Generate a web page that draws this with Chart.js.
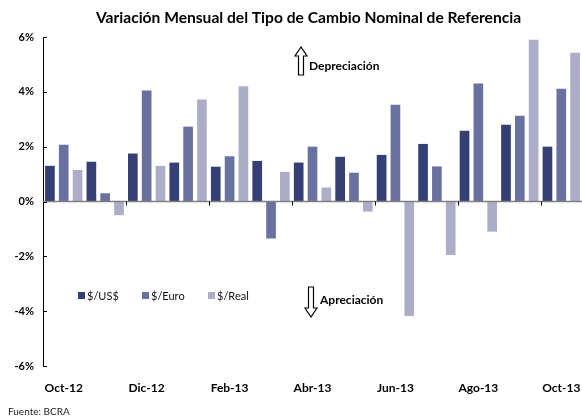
<!DOCTYPE html>
<html><head><meta charset="utf-8">
<script src="https://cdn.jsdelivr.net/npm/chart.js@4.4.1/dist/chart.umd.min.js"></script>
<style>html,body{margin:0;padding:0;background:#fff;}#wrap{width:582px;height:419px;position:relative;}</style>
</head><body><div id="wrap"><canvas id="c" width="582" height="419"></canvas></div>
<script>
const categories = ['Oct-12','Nov-12','Dic-12','Ene-13','Feb-13','Mar-13','Abr-13','May-13','Jun-13','Jul-13','Ago-13','Sep-13','Oct-13'];
const usd  = [1.30, 1.45, 1.75, 1.42, 1.27, 1.48, 1.42, 1.63, 1.70, 2.10, 2.58, 2.80, 2.00];
const euro = [2.07, 0.30, 4.05, 2.73, 1.65, -1.35, 2.00, 1.05, 3.53, 1.28, 4.30, 3.13, 4.11];
const real = [1.15, -0.50, 1.30, 3.72, 4.20, 1.08, 0.51, -0.37, -4.18, -1.95, -1.10, 5.90, 5.43];
const yTicks = [-6, -4, -2, 0, 2, 4, 6];
const seriesNames = ['$/US$', '$/Euro', '$/Real'];
const colors = ['#333f75', '#6971a0', '#abadc9'];
const titleText = 'Variación Mensual del Tipo de Cambio Nominal de Referencia';
const sourceText = 'Fuente: BCRA';

const FONT = 'Lato, "Open Sans", sans-serif';

const overlay = {
  id: 'overlay',
  afterDatasetsDraw(chart) {
    const ctx = chart.ctx, x = chart.scales.x, y = chart.scales.y, a = chart.chartArea;
    ctx.save();
    const y0 = y.getPixelForValue(0);
    ctx.strokeStyle = '#808080'; ctx.lineWidth = 1.6;
    ctx.beginPath(); ctx.moveTo(a.left, y0); ctx.lineTo(a.right, y0); ctx.stroke();
    ctx.strokeStyle = '#000'; ctx.lineWidth = 1;
    for (let i = 2; i < categories.length; i += 2) {
      const px = Math.round((x.getPixelForValue(i - 1) + x.getPixelForValue(i)) / 2) + 0.5;
      ctx.beginPath(); ctx.moveTo(px, y0); ctx.lineTo(px, y0 + 4); ctx.stroke();
    }
    yTicks.forEach(v => {
      const py = Math.round(y.getPixelForValue(v)) + 0.5;
      ctx.beginPath(); ctx.moveTo(a.left, py); ctx.lineTo(a.left + 4, py); ctx.stroke();
    });
    ctx.restore();
  },
  afterDraw(chart) {
    const ctx = chart.ctx;
    ctx.save();
    ctx.fillStyle = '#000';
    ctx.font = 'bold 15.6px ' + FONT;
    ctx.textAlign = 'center'; ctx.textBaseline = 'middle';
    ctx.fillText(titleText, 308.5, 18);
    ctx.font = '10px ' + FONT;
    ctx.textAlign = 'left';
    ctx.fillStyle = '#222';
    ctx.fillText(sourceText, 8, 412);
    const lx = [78, 142, 208];
    ctx.font = '11px ' + FONT;
    seriesNames.forEach((n, i) => {
      ctx.fillStyle = colors[i];
      ctx.fillRect(lx[i], 292, 7, 7);
      ctx.fillStyle = '#111';
      ctx.fillText(n, lx[i] + 9, 296);
    });
    ctx.strokeStyle = '#000'; ctx.lineWidth = 1.2; ctx.fillStyle = '#fff';
    ctx.beginPath();
    ctx.moveTo(298.5, 75); ctx.lineTo(298.5, 56); ctx.lineTo(295, 56); ctx.lineTo(301, 47);
    ctx.lineTo(307, 56); ctx.lineTo(303.5, 56); ctx.lineTo(303.5, 75); ctx.closePath();
    ctx.fill(); ctx.stroke();
    ctx.beginPath();
    ctx.moveTo(308.5, 287); ctx.lineTo(308.5, 308); ctx.lineTo(305, 308); ctx.lineTo(311, 317);
    ctx.lineTo(317, 308); ctx.lineTo(313.5, 308); ctx.lineTo(313.5, 287); ctx.closePath();
    ctx.fill(); ctx.stroke();
    ctx.fillStyle = '#000';
    ctx.font = 'bold 12px ' + FONT;
    ctx.fillText('Depreciación', 309, 66);
    ctx.fillText('Apreciación', 320, 300);
    ctx.restore();
  }
};

new Chart(document.getElementById('c'), {
  type: 'bar',
  data: {
    labels: categories,
    datasets: [
      { label: seriesNames[0], data: usd,  backgroundColor: colors[0] },
      { label: seriesNames[1], data: euro, backgroundColor: colors[1] },
      { label: seriesNames[2], data: real, backgroundColor: colors[2] }
    ]
  },
  options: {
    responsive: false,
    animation: false,
    devicePixelRatio: 1,
    layout: { padding: { top: 37, right: -2, left: 0, bottom: 0 } },
    datasets: { bar: { barPercentage: 0.7, categoryPercentage: 1.0, borderWidth: 0 } },
    plugins: { legend: { display: false }, title: { display: false }, tooltip: { enabled: false } },
    scales: {
      x: {
        grid: { display: false },
        border: { display: false },
        ticks: {
          autoSkip: false, maxRotation: 0, padding: 7,
          color: '#000', font: { family: FONT, size: 12, weight: 'bold' },
          callback: (v, i) => (i % 2 === 0 ? categories[i] : '')
        },
        afterFit: s => { s.height = 53; s.paddingLeft = 0; s.paddingRight = 0; }
      },
      y: {
        min: -6, max: 6,
        afterBuildTicks: s => { s.ticks = yTicks.map(v => ({ value: v })); },
        grid: { display: false, drawTicks: false },
        border: { display: true, color: '#000', width: 1 },
        ticks: {
          padding: 9, color: '#000', font: { family: FONT, size: 11, weight: 'bold' },
          callback: v => v + '%'
        },
        afterFit: s => { s.width = 43; }
      }
    }
  },
  plugins: [overlay]
});
</script></body></html>
